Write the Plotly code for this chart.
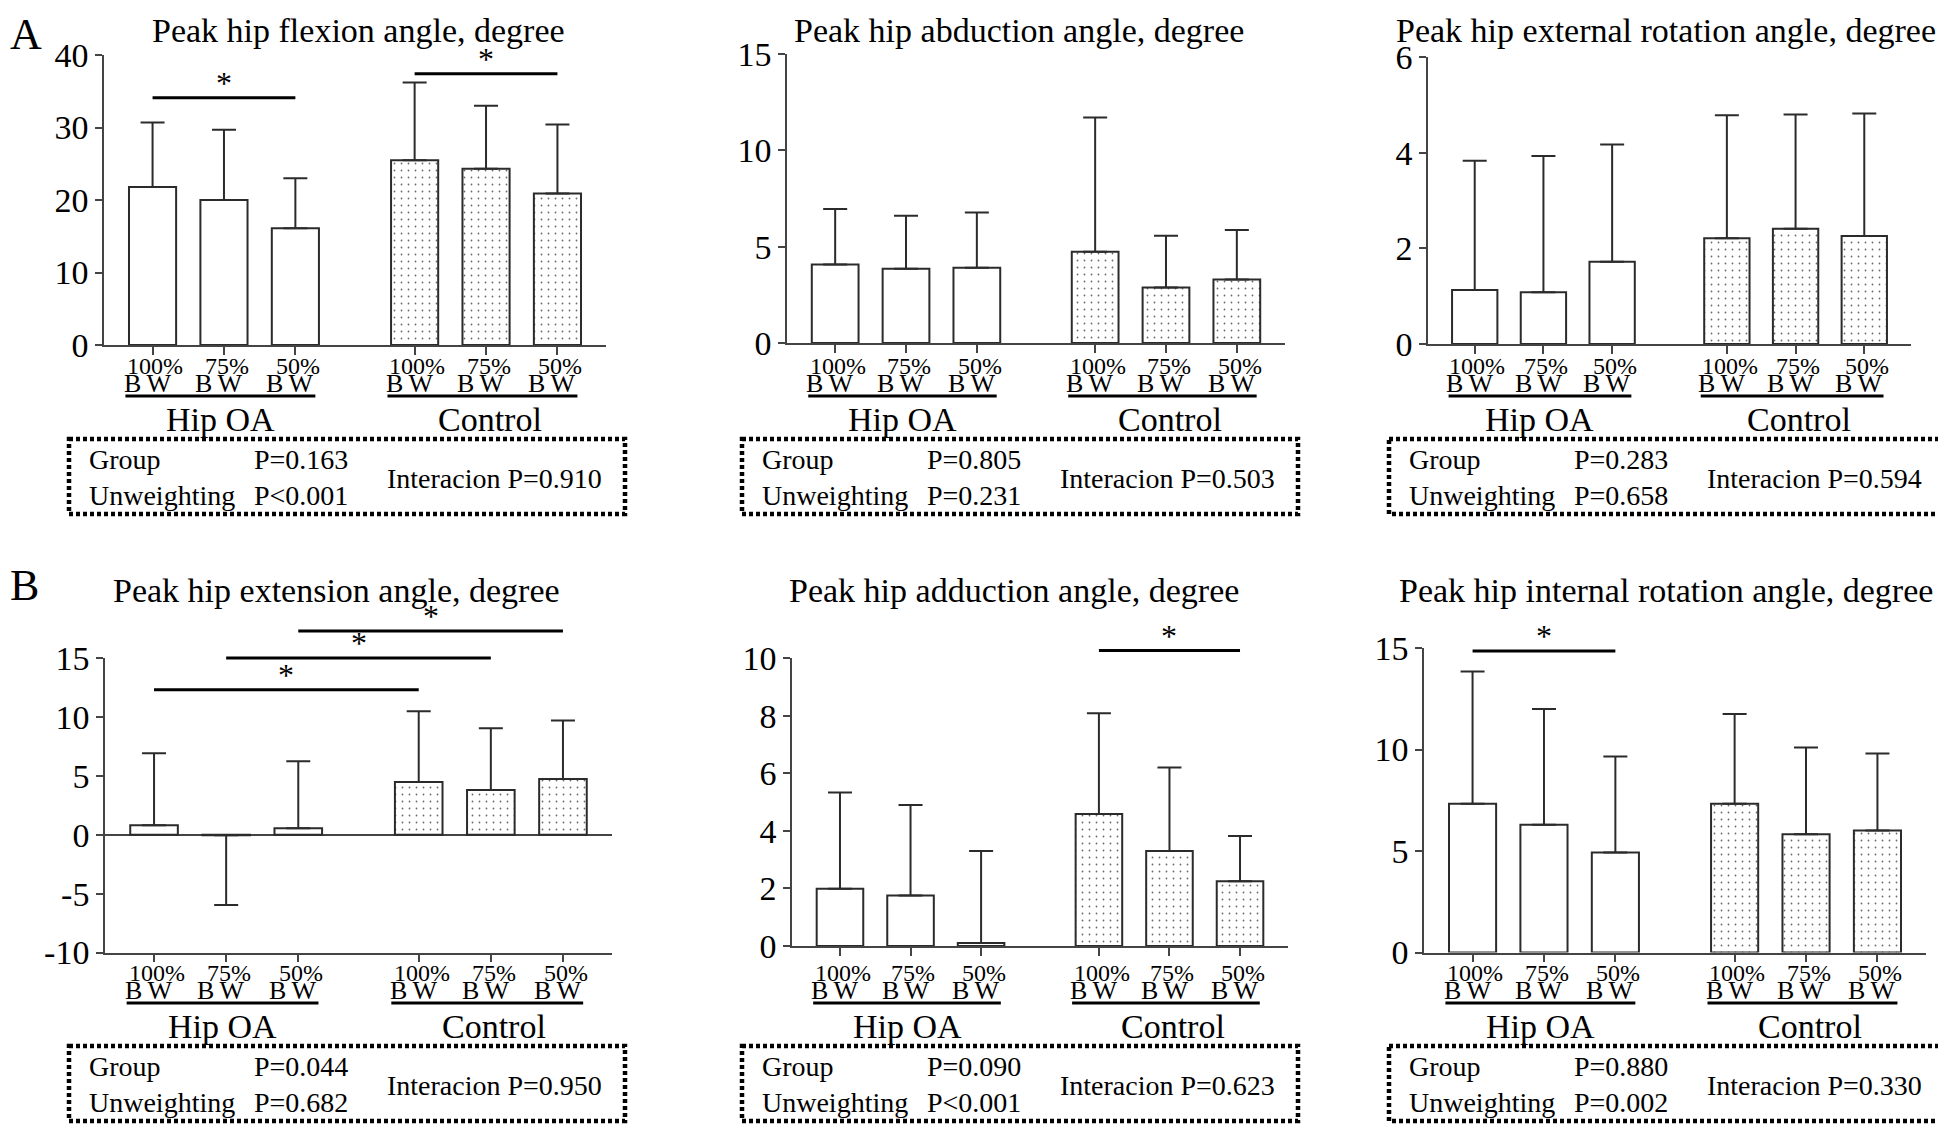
import plotly.graph_objects as go

FIG_W, FIG_H = 1946, 1126
PAGE_OFFSET = 8  # the browser page places the figure 8 px in from the top-left
FONT = "Liberation Serif"
INK = "#2b2b2b"

# ---------------- data ----------------
load_labels = ["100%", "75%", "50%"]
bw_label = "B\u2009W"
group_labels = ["Hip OA", "Control"]
x_positions = [0, 1, 2, 3.67, 4.67, 5.67]

titles = [
    "Peak hip flexion angle, degree",
    "Peak hip abduction angle, degree",
    "Peak hip external rotation angle, degree",
    "Peak hip extension angle, degree",
    "Peak hip adduction angle, degree",
    "Peak hip internal rotation angle, degree",
]

# means (Hip OA 100/75/50 %BW, Control 100/75/50 %BW) and SD
flexion_mean = [21.8, 20.0, 16.1, 25.5, 24.3, 20.9]
flexion_sd = [8.9, 9.7, 6.9, 10.7, 8.7, 9.5]
abduction_mean = [4.08, 3.85, 3.90, 4.74, 2.88, 3.30]
abduction_sd = [2.87, 2.75, 2.87, 6.96, 2.69, 2.57]
ext_rot_mean = [1.13, 1.08, 1.72, 2.21, 2.41, 2.26]
ext_rot_sd = [2.70, 2.85, 2.45, 2.57, 2.39, 2.56]
extension_mean = [0.80, -0.05, 0.54, 4.47, 3.80, 4.72]
extension_sd = [6.12, 5.91, 5.69, 6.00, 5.23, 4.98]
adduction_mean = [1.99, 1.75, 0.10, 4.58, 3.30, 2.25]
adduction_sd = [3.34, 3.15, 3.20, 3.50, 2.90, 1.57]
int_rot_mean = [7.33, 6.29, 4.92, 7.33, 5.83, 6.01]
int_rot_sd = [6.51, 5.70, 4.74, 4.42, 4.27, 3.79]

means = [flexion_mean, abduction_mean, ext_rot_mean, extension_mean, adduction_mean, int_rot_mean]
sds = [flexion_sd, abduction_sd, ext_rot_sd, extension_sd, adduction_sd, int_rot_sd]

y_ranges = [[0, 40], [0, 15], [0, 6], [-10, 15], [0, 10], [0, 15]]
y_ticks = [[0, 10, 20, 30, 40], [0, 5, 10, 15], [0, 2, 4, 6],
           [-10, -5, 0, 5, 10, 15], [0, 2, 4, 6, 8, 10], [0, 5, 10, 15]]

p_group = ["P=0.163", "P=0.805", "P=0.283", "P=0.044", "P=0.090", "P=0.880"]
p_unweight = ["P<0.001", "P=0.231", "P=0.658", "P=0.682", "P<0.001", "P=0.002"]
p_inter = ["P=0.910", "P=0.503", "P=0.594", "P=0.950", "P=0.623", "P=0.330"]

# significance brackets: (bar index from, bar index to, height in data units)
sig_bars = [
    [(0, 2, 34.1), (3, 5, 37.4)],
    [],
    [],
    [(0, 3, 12.3), (1, 4, 15.0), (2, 5, 17.3)],
    [(3, 5, 10.26)],
    [(0, 2, 14.85)],
]
panel_letters = ["A", "B"]

# ---------------- layout geometry (target pixels in the picture) ----------------
panel_px = [  # x_left, x_right, y_top, y_bottom of the plotting area
    (104, 606, 55, 345),
    (787, 1285, 54, 343),
    (1428, 1911, 57, 344),
    (105, 612, 658, 952.5),
    (792, 1288, 658, 946),
    (1424, 1926, 648, 952.5),
]
title_px = [(358, 30), (1019, 30), (1666, 30), (336, 590), (1014, 590), (1666, 590)]
row_base = [345, 952]
box_cols = [(69, 625), (742, 1298), (1389, 1943)]
X_RANGE = [-0.68, 6.35]


def px(xp):
    return (xp - PAGE_OFFSET) / FIG_W


def py(yp):
    return 1 - (yp - PAGE_OFFSET) / FIG_H


fig = go.Figure()
layout = dict(
    template="none",
    width=FIG_W, height=FIG_H,
    margin=dict(l=0, r=0, t=0, b=0, pad=0, autoexpand=False),
    paper_bgcolor="white", plot_bgcolor="white",
    showlegend=False, barmode="overlay",
    font=dict(family=FONT, color="black"),
)
annotations = []
shapes = []

for i in range(6):
    n = i + 1
    xa = "x" if n == 1 else f"x{n}"
    ya = "y" if n == 1 else f"y{n}"
    xkey = "xaxis" if n == 1 else f"xaxis{n}"
    ykey = "yaxis" if n == 1 else f"yaxis{n}"
    xl, xr, yt, yb = panel_px[i]
    row = i // 3
    col = i % 3
    m = means[i]
    s = sds[i]
    up = [sd if mv >= 0 else 0 for mv, sd in zip(m, s)]
    down = [sd if mv < 0 else 0 for mv, sd in zip(m, s)]

    for g in range(2):
        idx = slice(3 * g, 3 * g + 3)
        marker = dict(color="white", line=dict(color=INK, width=2))
        if g == 1:
            marker["pattern"] = dict(shape=".", size=7, solidity=0.05,
                                     fgcolor="#6a6a6a", bgcolor="white",
                                     fillmode="replace")
        fig.add_trace(go.Bar(
            x=x_positions[idx], y=m[idx], width=0.66,
            marker=marker,
            error_y=dict(type="data", symmetric=False, array=up[idx],
                         arrayminus=down[idx], color=INK, thickness=2, width=12),
            xaxis=xa, yaxis=ya, hoverinfo="skip",
        ))

    layout[xkey] = dict(
        domain=[px(xl), px(xr)], anchor=ya, range=X_RANGE, automargin=False,
        showline=True, linecolor="#444", linewidth=1.5,
        ticks="outside", ticklen=8, tickwidth=1.5, tickcolor="#444",
        tickvals=x_positions, showticklabels=False,
        showgrid=False, zeroline=False, fixedrange=True,
    )
    layout[ykey] = dict(
        domain=[py(yb), py(yt)], anchor=xa, range=y_ranges[i], automargin=False,
        showline=True, linecolor="#444", linewidth=1.5,
        ticks="outside", ticklen=7, tickwidth=1.5, tickcolor="#444",
        tickvals=y_ticks[i], ticktext=[str(t) for t in y_ticks[i]],
        tickfont=dict(size=34, family=FONT, color="black"),
        showgrid=False, zeroline=(y_ranges[i][0] < 0),
        zerolinecolor="#444", zerolinewidth=1.5, fixedrange=True,
    )

    # title
    tx, ty = title_px[i]
    annotations.append(dict(text=titles[i], x=px(tx), y=py(ty), xref="paper", yref="paper",
                            xanchor="center", yanchor="middle", showarrow=False,
                            font=dict(size=34, family=FONT)))

    base = row_base[row]
    # x labels
    for k, xv in enumerate(x_positions):
        annotations.append(dict(text=load_labels[k % 3], x=xv + 0.04, y=py(base + 21),
                                xref=xa, yref="paper", xanchor="center", yanchor="middle",
                                showarrow=False, font=dict(size=24, family=FONT)))
        annotations.append(dict(text=bw_label, x=xv - 0.07, y=py(base + 38),
                                xref=xa, yref="paper", xanchor="center", yanchor="middle",
                                showarrow=False, font=dict(size=26, family=FONT)))
    for g in range(2):
        x0 = x_positions[3 * g] - 0.38
        x1 = x_positions[3 * g + 2] + 0.28
        shapes.append(dict(type="line", xref=xa, yref="paper", x0=x0, x1=x1,
                           y0=py(base + 51), y1=py(base + 51),
                           line=dict(color="black", width=3)))
        annotations.append(dict(text=group_labels[g], x=[0.95, 4.72][g], y=py(base + 74),
                                xref=xa, yref="paper", xanchor="center", yanchor="middle",
                                showarrow=False, font=dict(size=34, family=FONT)))

    # stats box
    bl, br = box_cols[col]
    shapes.append(dict(type="rect", xref="paper", yref="paper",
                       x0=px(bl), x1=px(br), y0=py(base + 94), y1=py(base + 169),
                       line=dict(color="black", width=4.5, dash="4px,3px"),
                       fillcolor="rgba(0,0,0,0)"))
    for txt, dx, dy in [("Group", 18, 114), (p_group[i], 183, 114),
                        ("Unweighting", 18, 150), (p_unweight[i], 183, 150),
                        ("Interacion " + p_inter[i], 316, 133)]:
        annotations.append(dict(text=txt, x=px(bl + dx), y=py(base + dy),
                                xref="paper", yref="paper", xanchor="left", yanchor="middle",
                                showarrow=False, font=dict(size=28, family=FONT)))

    # significance brackets
    y0r, y1r = y_ranges[i]
    for (a, b, h) in sig_bars[i]:
        frac = (h - y0r) / (y1r - y0r)
        shapes.append(dict(type="line", xref=xa, yref=f"{ya} domain",
                           x0=x_positions[a], x1=x_positions[b], y0=frac, y1=frac,
                           line=dict(color="black", width=3)))
        annotations.append(dict(text="*", x=(x_positions[a] + x_positions[b]) / 2,
                                y=frac, xref=xa, yref=f"{ya} domain",
                                xanchor="center", yanchor="middle", yshift=15,
                                showarrow=False, font=dict(size=32, family=FONT)))

# panel letters (kept inside the page so they are not clipped)
annotations.append(dict(text=panel_letters[0], x=0, y=1, xref="paper", yref="paper",
                        xanchor="left", yanchor="top", showarrow=False,
                        font=dict(size=44, family=FONT)))
annotations.append(dict(text=panel_letters[1], x=0, y=py(585), xref="paper", yref="paper",
                        xanchor="left", yanchor="middle", showarrow=False,
                        font=dict(size=44, family=FONT)))

layout["annotations"] = annotations
layout["shapes"] = shapes
fig.update_layout(**layout)
fig.write_html("out.html")
